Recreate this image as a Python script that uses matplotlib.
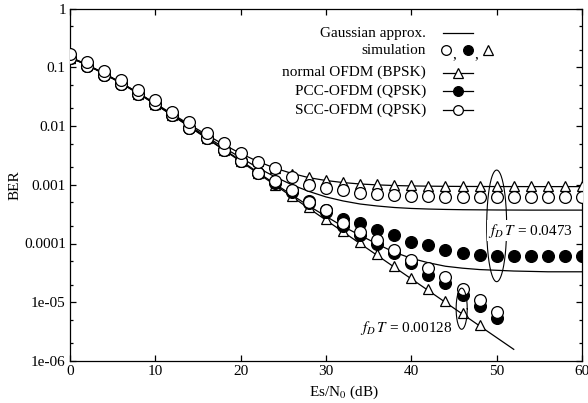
import matplotlib
matplotlib.use("Agg")
import matplotlib.pyplot as plt
import numpy as np
from matplotlib.ticker import FixedLocator, NullFormatter

plt.rcParams['font.family'] = ['Liberation Serif', 'DejaVu Serif']
plt.rcParams['mathtext.fontset'] = 'stix'
plt.rcParams['font.size'] = 11

# Es/N0 grids (dB)
snr_fast = list(range(0, 61, 2))
snr_slow = list(range(0, 51, 2))
snr_bpsk_slow = list(range(0, 49, 2))
snr_line_slow = list(range(0, 53, 2))

# simulation, fD T = 0.0473
bpsk_fast = [0.146, 0.108, 0.077, 0.053, 0.0362, 0.024, 0.016, 0.0106, 0.0071, 0.0048,
             0.0034, 0.0025, 0.0019, 1.5e-3, 1.33e-3, 1.2e-3, 1.1e-3, 1.05e-3, 1.02e-3, 1.0e-3,
             9.8e-4, 9.7e-4, 9.6e-4, 9.6e-4, 9.6e-4, 9.6e-4, 9.6e-4, 9.6e-4, 9.6e-4, 9.6e-4, 9.6e-4]
scc_fast = [0.166, 0.124, 0.087, 0.061, 0.041, 0.0277, 0.0175, 0.0116, 0.0075, 0.0051,
            0.0035, 0.00247, 0.0019, 1.35e-3, 1.0e-3, 8.8e-4, 8.3e-4, 7.3e-4, 7.0e-4, 6.7e-4,
            6.5e-4, 6.4e-4, 6.3e-4, 6.3e-4, 6.3e-4, 6.3e-4, 6.3e-4, 6.3e-4, 6.3e-4, 6.3e-4, 6.3e-4]
pcc_fast = [0.142, 0.106, 0.074, 0.052, 0.035, 0.0235, 0.0151, 0.0094, 0.0062, 0.0039,
            0.0025, 0.0016, 1.1e-3, 7.8e-4, 5.2e-4, 3.7e-4, 2.65e-4, 2.2e-4, 1.7e-4, 1.4e-4,
            1.07e-4, 9.4e-5, 7.7e-5, 6.8e-5, 6.3e-5, 6.2e-5, 6.1e-5, 6.1e-5, 6.1e-5, 6.1e-5, 6.1e-5]

# simulation, fD T = 0.00128
bpsk_slow = [0.146, 0.108, 0.077, 0.053, 0.0355, 0.0233, 0.0151, 0.0097, 0.0062, 0.0039,
             0.0025, 0.00158, 1.0e-3, 6.4e-4, 4.1e-4, 2.6e-4, 1.65e-4, 1.05e-4, 6.5e-5, 4.1e-5,
             2.6e-5, 1.65e-5, 1.05e-5, 6.5e-6, 4.1e-6]
scc_slow = [0.142, 0.106, 0.074, 0.052, 0.035, 0.0235, 0.0151, 0.0094, 0.0062, 0.0039,
            0.0025, 0.0016, 1.15e-3, 8.0e-4, 5.1e-4, 3.7e-4, 2.2e-4, 1.6e-4, 1.15e-4, 7.7e-5,
            5.2e-5, 3.8e-5, 2.7e-5, 1.7e-5, 1.1e-5, 6.9e-6]
pcc_slow = [0.142, 0.106, 0.074, 0.052, 0.035, 0.0235, 0.0151, 0.0094, 0.0062, 0.0039,
            0.0025, 0.0016, 1.08e-3, 7.5e-4, 4.8e-4, 3.4e-4, 2.0e-4, 1.4e-4, 1.0e-4, 6.8e-5,
            4.6e-5, 2.9e-5, 2.1e-5, 1.33e-5, 8.7e-6, 5.5e-6]

# Gaussian approximation curves
gauss_bpsk_fast = [0.147, 0.109, 0.078, 0.054, 0.0364, 0.0242, 0.016, 0.0106, 0.0071, 0.00485,
                   0.0034, 0.0025, 0.00192, 0.00156, 0.00132, 0.00118, 0.00109, 0.00103, 9.95e-4, 9.7e-4,
                   9.55e-4, 9.46e-4, 9.4e-4, 9.36e-4, 9.34e-4, 9.32e-4, 9.31e-4, 9.3e-4, 9.3e-4, 9.3e-4, 9.3e-4]
gauss_scc_fast = [0.15, 0.111, 0.079, 0.0545, 0.0365, 0.0238, 0.0155, 0.0101, 0.0066, 0.0043,
                  0.0029, 0.00195, 0.00137, 0.001, 7.7e-4, 6.2e-4, 5.3e-4, 4.7e-4, 4.35e-4, 4.1e-4,
                  3.95e-4, 3.86e-4, 3.8e-4, 3.76e-4, 3.74e-4, 3.72e-4, 3.71e-4, 3.7e-4, 3.7e-4, 3.7e-4, 3.7e-4]
gauss_pcc_fast = [0.148, 0.11, 0.078, 0.054, 0.036, 0.0236, 0.0152, 0.0098, 0.0063, 0.004,
                  0.0026, 0.00163, 1.04e-3, 6.7e-4, 4.35e-4, 2.9e-4, 1.95e-4, 1.38e-4, 9.8e-5, 7.1e-5,
                  5.6e-5, 4.7e-5, 4.1e-5, 3.8e-5, 3.6e-5, 3.5e-5, 3.4e-5, 3.35e-5, 3.3e-5, 3.3e-5, 3.3e-5]
gauss_bpsk_slow = [0.146, 0.1085, 0.0771, 0.053, 0.0355, 0.0233, 0.0151, 0.00967, 0.00617, 0.00393,
                   0.00249, 0.00157, 9.94e-4, 6.27e-4, 3.96e-4, 2.5e-4, 1.58e-4, 9.95e-5, 6.28e-5, 3.96e-5,
                   2.5e-5, 1.58e-5, 9.95e-6, 6.28e-6, 3.96e-6, 2.5e-6, 1.58e-6]

y_ticks = [1, 0.1, 0.01, 0.001, 0.0001, 1e-05, 1e-06]
y_tick_labels = ['1', '0.1', '0.01', '0.001', '0.0001', '1e-05', '1e-06']

fig = plt.figure(figsize=(5.88, 4.03), dpi=100)
ax = fig.add_axes([70 / 588, 1 - 361 / 403, 512 / 588, 352.5 / 403])
ax.set_yscale('log')
ax.set_xlim(0, 60)
ax.set_ylim(1e-6, 1)

# theory lines
for yv, xv in [(gauss_bpsk_fast, snr_fast), (gauss_scc_fast, snr_fast),
               (gauss_pcc_fast, snr_fast), (gauss_bpsk_slow, snr_line_slow)]:
    ax.plot(xv, yv, color='black', lw=0.9, zorder=2)

tri = dict(marker='^', ms=7.5, mfc='white', mec='black', mew=0.9, ls='none', zorder=3)
filled = dict(marker='o', ms=8.5, mfc='black', mec='black', mew=0.9, ls='none', zorder=4)
hollow = dict(marker='o', ms=8.5, mfc='white', mec='black', mew=0.9, ls='none', zorder=5)

ax.plot(snr_bpsk_slow, bpsk_slow, **tri)
ax.plot(snr_fast, bpsk_fast, **tri)
ax.plot(snr_slow, pcc_slow, **filled)
ax.plot(snr_fast, pcc_fast, **filled)
ax.plot(snr_slow, scc_slow, **hollow)
ax.plot(snr_fast, scc_fast, **hollow)

# ellipses marking the two groups (drawn in dB / log10 space)
t = np.linspace(0, 2 * np.pi, 200)
ax.plot(50 + 1.17 * np.cos(t), 10 ** (-3.70 + 0.95 * np.sin(t)), color='black', lw=0.8, zorder=6)
ax.plot(45.9 + 0.65 * np.cos(t), 10 ** (-5.11 + 0.35 * np.sin(t)), color='black', lw=0.8, zorder=6)

box = dict(facecolor='white', edgecolor='none', pad=1.0)
ax.text(49.0, 1.65e-4, r'$f_D\,T$ = 0.0473', ha='left', va='center', bbox=box, zorder=7)
ax.text(34.0, 3.6e-6, r'$f_D\,T$ = 0.00128', ha='left', va='center', bbox=box, zorder=7)

# axes styling
ax.set_yticks(y_ticks)
ax.set_yticklabels(y_tick_labels)
minor = [m * 10.0 ** e for e in range(-6, 0) for m in (2, 5)]
ax.yaxis.set_minor_locator(FixedLocator(minor))
ax.yaxis.set_minor_formatter(NullFormatter())
ax.set_xticks([0, 10, 20, 30, 40, 50, 60])
ax.tick_params(which='both', direction='in', top=True, right=True, width=0.9)
ax.tick_params(which='major', length=4.5, pad=3)
ax.tick_params(which='minor', length=2.5)
for s in ax.spines.values():
    s.set_linewidth(0.9)

ax.set_ylabel('BER', labelpad=2)
ax.set_xlabel('Es/N$_0$ (dB)', labelpad=1)
ax.xaxis.set_label_coords((344 - 70) / 512, -0.065)

# hand-made legend block
tx = (426 - 70) / 512
lx0, lx1, mx = (443 - 70) / 512, (473 - 70) / 512, (458 - 70) / 512
rows = [0.930, 0.881, 0.818, 0.766, 0.712]
kw = dict(transform=ax.transAxes, clip_on=False, zorder=8)
ax.text(tx, rows[0], 'Gaussian approx.', ha='right', va='center', transform=ax.transAxes)
ax.plot([lx0, lx1], [rows[0]] * 2, color='black', lw=0.9, **kw)
ax.text(tx, rows[1], 'simulation', ha='right', va='center', transform=ax.transAxes)
ax.plot([(446 - 70) / 512], [rows[1]], marker='o', ms=7, mfc='white', mec='black', mew=0.9, **kw)
ax.text((452 - 70) / 512, rows[1] - 0.012, ',', ha='left', va='center', transform=ax.transAxes)
ax.plot([(467.5 - 70) / 512], [rows[1]], marker='o', ms=7, mfc='black', mec='black', mew=0.9, **kw)
ax.text((474 - 70) / 512, rows[1] - 0.012, ',', ha='left', va='center', transform=ax.transAxes)
ax.plot([(488 - 70) / 512], [rows[1]], marker='^', ms=6.5, mfc='white', mec='black', mew=0.9, **kw)
labels = ['normal OFDM (BPSK)', 'PCC-OFDM (QPSK)', 'SCC-OFDM (QPSK)']
styles = [dict(marker='^', ms=6.5, mfc='white'), dict(marker='o', ms=7, mfc='black'),
          dict(marker='o', ms=7, mfc='white')]
for r, lab, st in zip(rows[2:], labels, styles):
    ax.text(tx, r, lab, ha='right', va='center', transform=ax.transAxes)
    ax.plot([lx0, lx1], [r, r], color='black', lw=0.9, **kw)
    ax.plot([mx], [r], mec='black', mew=0.9, **st, **kw)

fig.savefig('out.png', dpi=100)
